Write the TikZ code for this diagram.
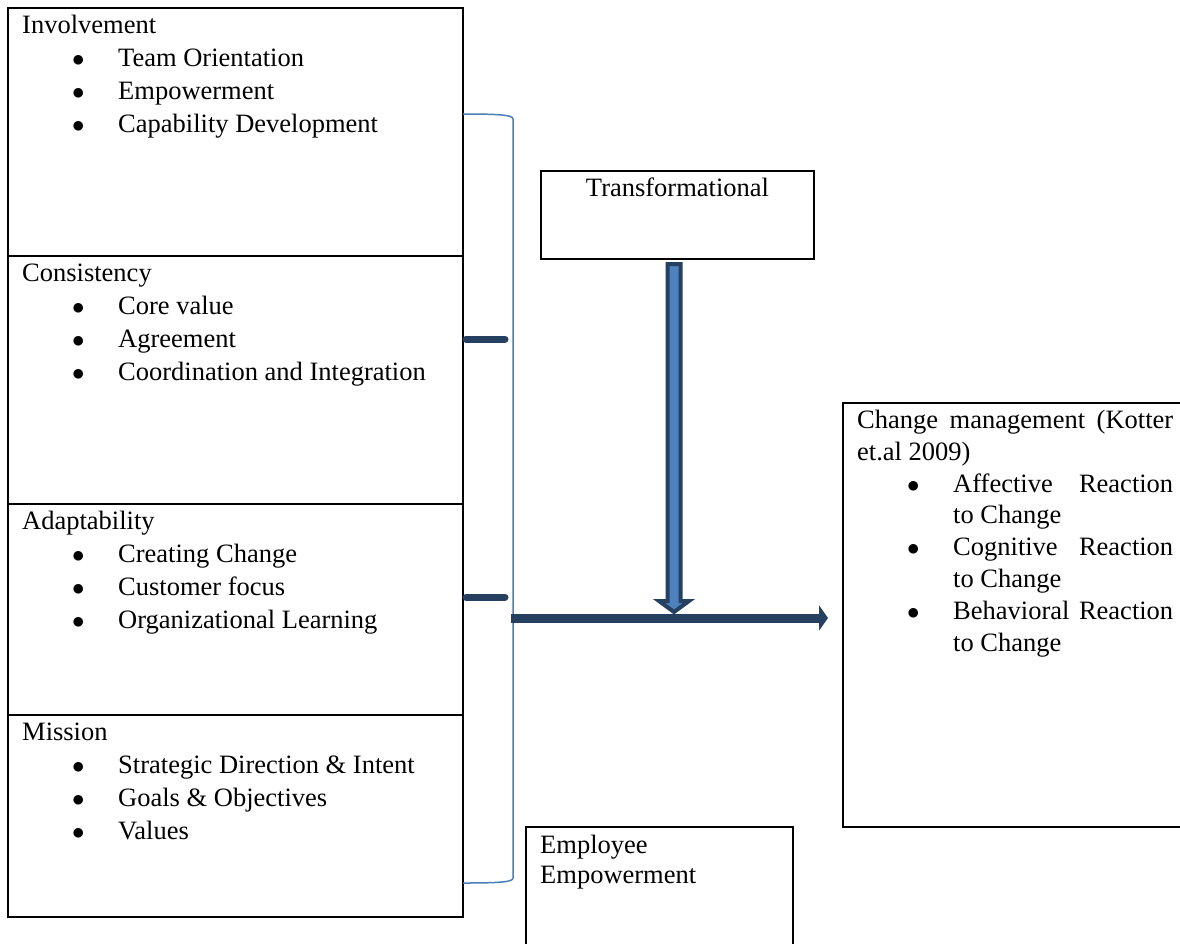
\documentclass[tikz,border=0pt]{standalone}
\usepackage{fontspec}
\setmainfont{Liberation Serif}
\usetikzlibrary{arrows.meta}
\usetikzlibrary{positioning}
\usetikzlibrary{calc}
\definecolor{navy}{RGB}{38,64,98}
\definecolor{steel}{RGB}{79,129,189}
\definecolor{bracket}{RGB}{74,126,187}

\begin{document}
\begin{tikzpicture}[x=1pt,y=-1pt,font=\fontsize{26.5}{33}\selectfont,
	cbox/.style={draw, rectangle, line width=2pt, inner sep=0pt, outer sep=0pt, minimum width=455},
	txt/.style={inner sep=0pt, anchor=base west},
	itm/.style={txt, execute at begin node={\makebox[46pt][l]{$\bullet$}}},
	tab/.style={navy, line width=7pt, line cap=round}]
	\useasboundingbox (0,0) rectangle (1180,943);
	\clip (0,0) rectangle (1180,943);

	% culture traits on the left
	\node[cbox, minimum height=248, anchor=north west] (inv) at (8,8) {};
	\node[cbox, minimum height=248] (con) [below=0pt of inv] {};
	\node[cbox, minimum height=211] (ada) [below=0pt of con] {};
	\node[cbox, minimum height=202] (mis) [below=0pt of ada] {};

	\node[txt] (invT) at ($(inv.north west)+(14,25)$) {Involvement};
	\foreach \t [count=\i] in {Team Orientation, Empowerment, Capability Development}
		\node[itm] at ($(invT.base west)+(50,33*\i)$) {\t};
	\node[txt] (conT) at ($(con.north west)+(14,25)$) {Consistency};
	\foreach \t [count=\i] in {Core value, Agreement, Coordination and Integration}
		\node[itm] at ($(conT.base west)+(50,33*\i)$) {\t};
	\node[txt] (adaT) at ($(ada.north west)+(14,25)$) {Adaptability};
	\foreach \t [count=\i] in {Creating Change, Customer focus, Organizational Learning}
		\node[itm] at ($(adaT.base west)+(50,33*\i)$) {\t};
	\node[txt] (misT) at ($(mis.north west)+(14,25)$) {Mission};
	\foreach \t [count=\i] in {Strategic Direction \& Intent, Goals \& Objectives, Values}
		\node[itm] at ($(misT.base west)+(50,33*\i)$) {\t};

	% leadership and empowerment
	\node[cbox, minimum width=273, minimum height=88, anchor=north west] (tra) at (541,171) {};
	\node[inner sep=0pt, anchor=base] at ($(tra.north)+(0,25)$) {Transformational};

	\node[cbox, minimum width=267, minimum height=140, anchor=north west] (emp) at (526,827) {};
	\node[txt] (empT) at ($(emp.north west)+(14,26)$) {Employee};
	\node[txt] at ($(empT.base west)+(0,30)$) {Empowerment};

	% outcome
	\node[cbox, minimum width=350, minimum height=424, anchor=north west] (chg) at (843,403) {};
	\node[txt] (chgT) at ($(chg.north west)+(14,25.5)$) {\makebox[316pt][s]{Change management (Kotter}};
	\node[txt] at ($(chgT.base west)+(0,31.8)$) {et.al 2009)};
	\foreach \t [count=\i] in {Affective, Cognitive, Behavioral} {
		\node[itm] at ($(chgT.base west)+(50,63.6*\i)$) {\makebox[220pt][s]{\t{} Reaction}};
		\node[txt] at ($(chgT.base west)+(96,63.6*\i+31.8)$) {to Change};
	}

	% bracket and connectors
	\coordinate (bt) at (463,114);
	\coordinate (bb) at (463,883);
	\draw[bracket, line width=1.5pt] (bt) .. controls (500,114) and (513,115) .. (513,119)
		-- (513,878) .. controls (513,882) and (500,883) .. (bb);
	\draw[tab] ([xshift=3pt,yshift=41pt]con.east) -- ++(39,0);
	\draw[tab] ([xshift=3pt,yshift=12.5pt]ada.east) -- ++(39,0);

	\coordinate (brace) at (511,618);
	\coordinate (join) at (674,618);
	\draw[navy, line width=9pt, -{Triangle[length=9pt,width=25pt]}, shorten >=15pt] (brace) -- (brace -| chg.west);
	\filldraw[fill=steel, draw=navy, line width=4pt, line join=miter]
		($(join |- tra.south)+(-6.5,5)$) -- ($(join |- tra.south)+(6.5,5)$)
		-- ($(join)+(6.5,-17)$) -- ($(join)+(15,-17)$) -- ($(join)+(0,-6)$)
		-- ($(join)+(-15,-17)$) -- ($(join)+(-6.5,-17)$) -- cycle;
\end{tikzpicture}
\end{document}
